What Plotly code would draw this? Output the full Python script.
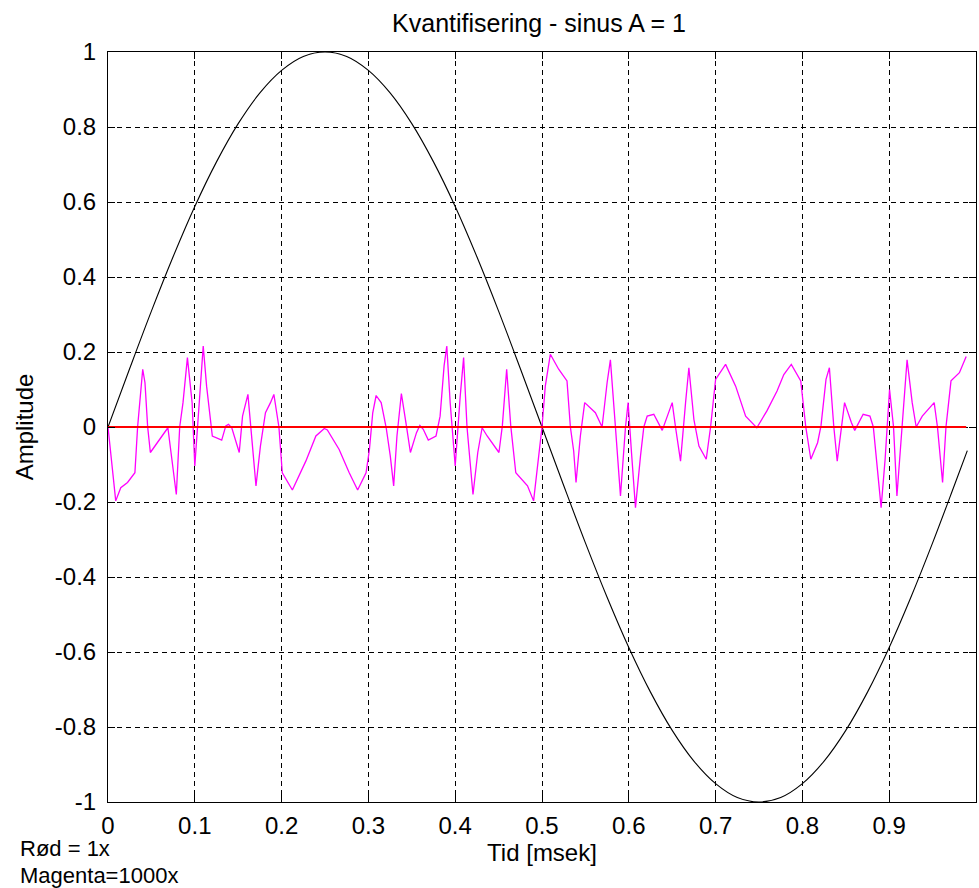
import plotly.graph_objects as go

# Sine wave, amplitude 1, one period over 1 msec
t_sine = [0.0, 0.025, 0.05, 0.075, 0.1, 0.125, 0.15, 0.175, 0.2, 0.225,
          0.25, 0.275, 0.3, 0.325, 0.35, 0.375, 0.4, 0.425, 0.45, 0.475,
          0.5, 0.525, 0.55, 0.575, 0.6, 0.625, 0.65, 0.675, 0.7, 0.725,
          0.75, 0.775, 0.8, 0.825, 0.85, 0.875, 0.9, 0.925, 0.95, 0.975, 0.99]
sine = [0.0, 0.156, 0.309, 0.454, 0.588, 0.707, 0.809, 0.891, 0.951, 0.988,
        1.0, 0.988, 0.951, 0.891, 0.809, 0.707, 0.588, 0.454, 0.309, 0.156,
        0.0, -0.156, -0.309, -0.454, -0.588, -0.707, -0.809, -0.891, -0.951, -0.988,
        -1.0, -0.988, -0.951, -0.891, -0.809, -0.707, -0.588, -0.454, -0.309, -0.156, -0.063]

# Quantisation error, magnified 1000x
t_err = [0.0, 0.0089, 0.0147, 0.0225, 0.031, 0.0341, 0.040, 0.0426, 0.0457, 0.0488,
         0.069, 0.0729, 0.0787, 0.0826, 0.0864, 0.0915, 0.0969, 0.100, 0.1097, 0.1136,
         0.1186, 0.1202, 0.131, 0.1357, 0.1388, 0.1426, 0.1512, 0.155, 0.1612, 0.1651,
         0.1705, 0.1756, 0.1814, 0.1872, 0.1911, 0.1969, 0.2008, 0.2124, 0.2279, 0.2395,
         0.2492, 0.2527, 0.2663, 0.2779, 0.2876, 0.2973, 0.3012, 0.305, 0.3089, 0.3147,
         0.3205, 0.3252, 0.3291, 0.3329, 0.338, 0.3438, 0.3484, 0.3554, 0.3593, 0.3632,
         0.369, 0.3779, 0.3826, 0.3872, 0.3903, 0.3942, 0.3981, 0.400, 0.4058, 0.4097,
         0.4136, 0.4205, 0.426, 0.431, 0.4368, 0.4504, 0.4543, 0.4593, 0.464, 0.4698,
         0.4833, 0.4903, 0.5, 0.5038, 0.5096, 0.5192, 0.5288, 0.5327, 0.5365, 0.5392,
         0.5442, 0.5492, 0.5615, 0.5692, 0.575, 0.5788, 0.5846, 0.5904, 0.5962, 0.5992,
         0.6031, 0.6077, 0.6135, 0.6173, 0.6212, 0.6288, 0.6385, 0.6442, 0.65, 0.6538,
         0.6596, 0.6654, 0.6692, 0.675, 0.6808, 0.6892, 0.6942, 0.70, 0.7115, 0.7231,
         0.7346, 0.7454, 0.7475, 0.7591, 0.7708, 0.7786, 0.7872, 0.7981, 0.8012, 0.8039,
         0.8097, 0.8175, 0.8214, 0.8272, 0.8311, 0.8362, 0.8401, 0.8447, 0.8486, 0.8564,
         0.8603, 0.87, 0.8778, 0.8817, 0.8868, 0.8907, 0.8953, 0.9004, 0.905, 0.9089,
         0.9148, 0.9206, 0.9265, 0.9311, 0.9381, 0.9518, 0.9556, 0.9615, 0.9654, 0.9712,
         0.9809, 0.9887]
err_x1000 = [0.0, -0.197, -0.162, -0.148, -0.122, 0.0, 0.154, 0.118, 0.0, -0.068,
             -0.002, -0.068, -0.180, 0.0, 0.065, 0.185, 0.065, -0.104, 0.216, 0.109,
             0.0, -0.024, -0.035, 0.003, 0.007, -0.002, -0.068, 0.029, 0.087, -0.015,
             -0.157, -0.051, 0.038, 0.065, 0.087, 0.0, -0.122, -0.168, -0.091, -0.024,
             -0.004, -0.008, -0.060, -0.122, -0.168, -0.122, -0.060, 0.038, 0.084, 0.065,
             -0.002, -0.077, -0.157, -0.024, 0.089, 0.003, -0.068, -0.015, 0.004, -0.006,
             -0.035, -0.024, 0.029, 0.163, 0.216, 0.065, -0.064, -0.104, 0.083, 0.185,
             0.0, -0.180, -0.068, -0.002, -0.024, -0.068, 0.003, 0.154, 0.003, -0.122,
             -0.157, -0.197, 0.0, 0.109, 0.194, 0.154, 0.123, 0.0, -0.064, -0.148,
             -0.024, 0.065, 0.038, 0.0, 0.118, 0.179, 0.0, -0.184, 0.0, 0.065,
             -0.068, -0.215, -0.077, 0.0, 0.029, 0.034, -0.009, 0.029, 0.065, 0.0,
             -0.091, 0.065, 0.158, 0.020, -0.051, -0.086, 0.0, 0.127, 0.167, 0.109,
             0.029, 0.003, -0.002, 0.043, 0.096, 0.140, 0.167, 0.123, 0.065, 0.0,
             -0.086, -0.042, 0.003, 0.127, 0.158, 0.0, -0.091, 0.0, 0.065, 0.012,
             -0.009, 0.034, 0.029, 0.0, -0.113, -0.215, -0.086, 0.100, 0.0, -0.184,
             0.0, 0.179, 0.065, 0.0, 0.029, 0.065, 0.0, -0.148, 0.0, 0.123,
             0.145, 0.188]

# Unmagnified error (1x)
err_x1 = [v / 1000 for v in err_x1000]

x_ticks = [0, 0.1, 0.2, 0.3, 0.4, 0.5, 0.6, 0.7, 0.8, 0.9, 1]
x_ticklabels = ["0", "0.1", "0.2", "0.3", "0.4", "0.5", "0.6", "0.7", "0.8", "0.9", "1"]
y_ticks = [-1, -0.8, -0.6, -0.4, -0.2, 0, 0.2, 0.4, 0.6, 0.8, 1]
y_ticklabels = ["-1", "-0.8", "-0.6", "-0.4", "-0.2", "0", "0.2", "0.4", "0.6", "0.8", "1"]

FONT = "Liberation Sans, Arial, sans-serif"
FS = 24
FS_TITLE = 25
FS_NOTE = 22

fig = go.Figure()
fig.add_trace(go.Scatter(x=t_sine, y=sine, mode="lines", line_shape="spline",
                         line=dict(color="black", width=1.1), showlegend=False))
fig.add_trace(go.Scatter(x=t_err, y=err_x1000, mode="lines",
                         line=dict(color="#FF00FF", width=1.3), showlegend=False))
fig.add_trace(go.Scatter(x=t_err, y=err_x1, mode="lines",
                         line=dict(color="#FF0000", width=2), showlegend=False))

axis_common = dict(
    showline=True, linecolor="black", linewidth=1, mirror="ticks",
    ticks="inside", ticklen=7, tickcolor="black", tickwidth=1,
    showgrid=True, gridcolor="black", gridwidth=1, griddash="5px,4px",
    zeroline=False, tickfont=dict(family=FONT, size=FS, color="black"),
)

fig.update_layout(
    width=979, height=888,
    margin=dict(l=108, r=3, t=52, b=86),
    paper_bgcolor="white", plot_bgcolor="white",
    font=dict(family=FONT, size=FS, color="black"),
    title=dict(text="Kvantifisering - sinus A = 1", x=0.5506, xanchor="center",
               y=0.974, yanchor="middle", font=dict(family=FONT, size=FS_TITLE, color="black")),
    xaxis=dict(range=[0, 1], tickvals=x_ticks, ticktext=x_ticklabels,
               ticklabelstandoff=2,
               title=dict(text="Tid [msek]", standoff=4,
                          font=dict(family=FONT, size=FS, color="black")),
               **axis_common),
    yaxis=dict(range=[-1, 1], tickvals=y_ticks, ticktext=y_ticklabels,
               ticklabelstandoff=6,
               title=dict(text="Amplitude", standoff=14,
                          font=dict(family=FONT, size=FS, color="black")),
               **axis_common),
)

# Scale notes in the lower-left corner
fig.add_annotation(text="Rød = 1x", xref="paper", yref="paper",
                   x=-0.1037, y=-0.0620, xanchor="left", yanchor="middle",
                   showarrow=False, font=dict(family=FONT, size=FS_NOTE, color="black"))
fig.add_annotation(text="Magenta=1000x", xref="paper", yref="paper",
                   x=-0.1037, y=-0.0975, xanchor="left", yanchor="middle",
                   showarrow=False, font=dict(family=FONT, size=FS_NOTE, color="black"))

fig.write_html("out.html")
